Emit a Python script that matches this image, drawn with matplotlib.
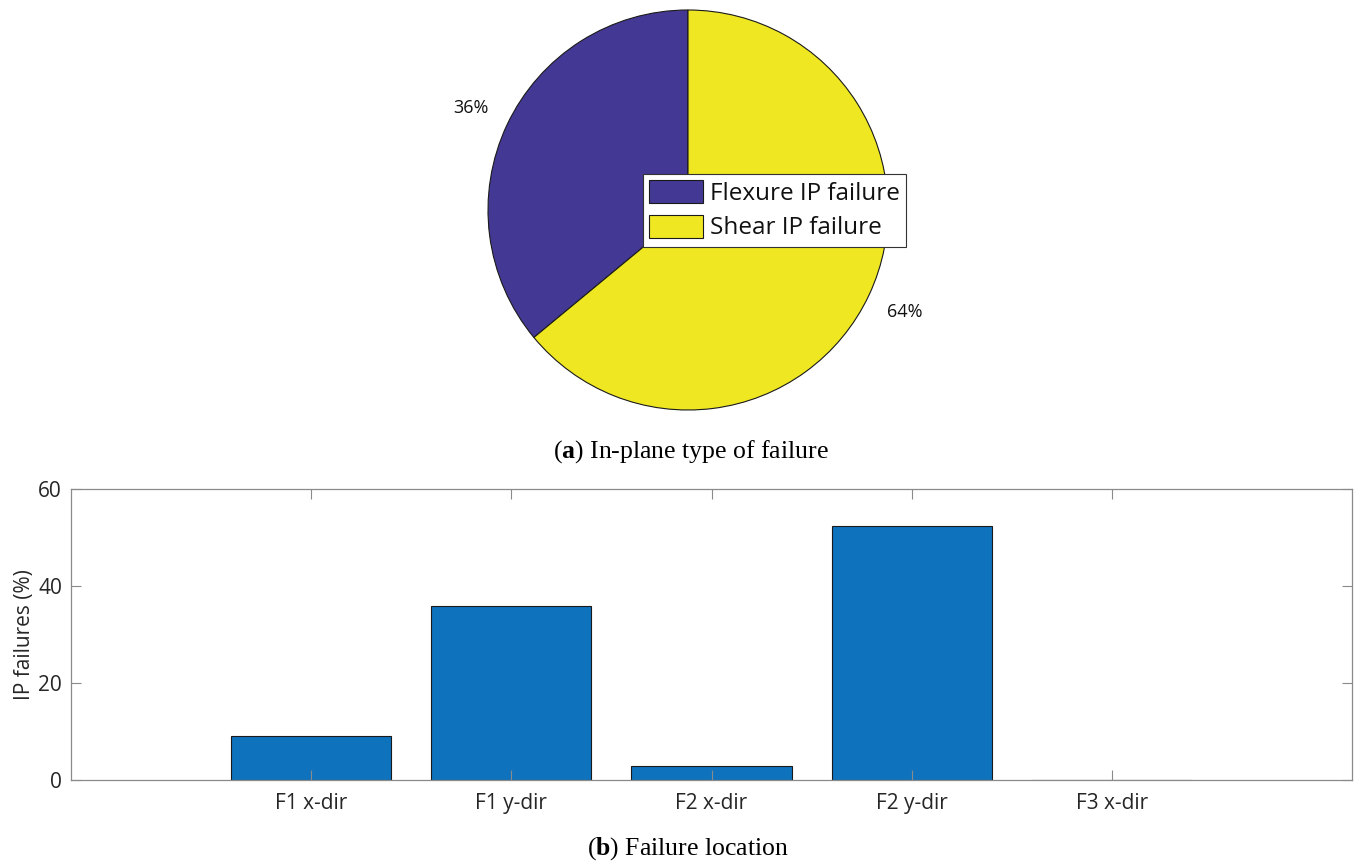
import matplotlib.pyplot as plt
import matplotlib
import numpy as np

matplotlib.rcParams.update({
    'font.family': 'Open Sans',
    'font.size': 11,
    'mathtext.fontset': 'custom',
    'mathtext.rm': 'Liberation Serif',
    'mathtext.bf': 'Liberation Serif:bold',
})

# ============================================================
# DATA
# ============================================================
pie_labels = ['Flexure IP failure', 'Shear IP failure']
pie_values = [36, 64]
pie_colors = ['#433995', '#EEE722']

locations = ['F1 x-dir', 'F1 y-dir', 'F2 x-dir', 'F2 y-dir', 'F3 x-dir']
ip_failures = [9.0, 35.8, 2.9, 52.3, 0.0]

W, H = 1356, 863
fig = plt.figure(figsize=(W / 100, H / 100), dpi=100)

# ============================================================
# (a) pie chart
# ============================================================
ax_pie = fig.add_axes([488 / W, 1 - 410 / H, 400 / W, 400 / H])
wedges, texts, autotexts = ax_pie.pie(
    pie_values, colors=pie_colors, startangle=90, counterclock=True,
    autopct='%1.0f%%', pctdistance=1.2,
    wedgeprops=dict(edgecolor='#1a1a1a', linewidth=0.8),
    textprops=dict(fontsize=13, color='#111111'))
ax_pie.set_xlim(-1, 1)
ax_pie.set_ylim(-1, 1)
ax_pie.set_aspect('equal')
ax_pie.axis('off')

leg = ax_pie.legend(wedges, pie_labels, loc='upper left',
                    bbox_to_anchor=(0.3875, 0.59), fontsize=17.5,
                    handlelength=2.2, handleheight=1.1, handletextpad=0.3,
                    labelspacing=0.35, borderpad=0.25, borderaxespad=0,
                    fancybox=False, framealpha=1, edgecolor='#333333')
leg.get_frame().set_linewidth(0.8)
for t in leg.get_texts():
    t.set_color('#111111')

fig.text(691 / W, 1 - 452 / H, r'($\mathbf{a}$) In-plane type of failure',
         ha='center', va='center', fontsize=18.5, family='Liberation Serif')

# ============================================================
# (b) bar chart
# ============================================================
ax = fig.add_axes([71 / W, 1 - 780 / H, (1352 - 71) / W, (780 - 489) / H])
x = np.arange(1, len(locations) + 1)
ax.bar(x, ip_failures, width=0.8, color='#0E72BD', edgecolor='#1a1a1a',
       linewidth=0.8)

ax.set_xlim(-0.2, 6.2)
ax.set_ylim(0, 60)
ax.set_xticks(x)
ax.set_xticklabels(locations)
ax.set_yticks([0, 20, 40, 60])
ax.set_ylabel('IP failures (%)', fontsize=15, color='#262626', labelpad=2)

for sp in ax.spines.values():
    sp.set_color('#8a8a8a')
    sp.set_linewidth(0.9)
ax.tick_params(direction='in', length=7, width=0.8, color='#8a8a8a',
               top=True, right=True, labelsize=15, labelcolor='#262626')
ax.tick_params(axis='x', pad=9)
ax.tick_params(axis='y', pad=6.5)

fig.text(688 / W, 1 - 849 / H, r'($\mathbf{b}$) Failure location',
         ha='center', va='center', fontsize=18.5, family='Liberation Serif')

plt.savefig('out.png', dpi=100)
plt.close()
